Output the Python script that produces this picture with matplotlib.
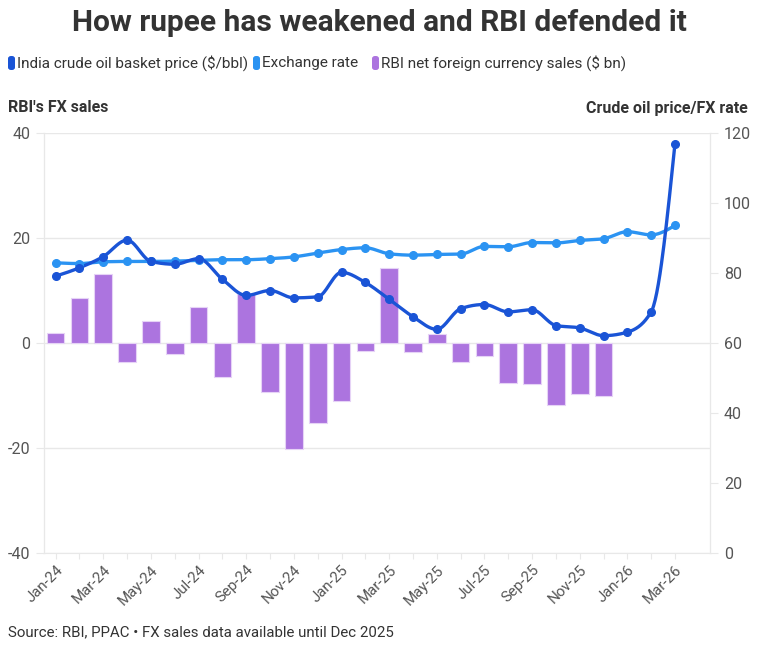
import numpy as np
import matplotlib
matplotlib.use("Agg")
import matplotlib.pyplot as plt
from matplotlib.patches import FancyBboxPatch

months = ["Jan-24","Feb-24","Mar-24","Apr-24","May-24","Jun-24","Jul-24","Aug-24","Sep-24","Oct-24","Nov-24","Dec-24",
          "Jan-25","Feb-25","Mar-25","Apr-25","May-25","Jun-25","Jul-25","Aug-25","Sep-25","Oct-25","Nov-25","Dec-25",
          "Jan-26","Feb-26","Mar-26"]
fx_sales = [2.0, 8.5, 13.1, -3.6, 4.2, -2.1, 6.9, -6.5, 9.4, -9.3, -20.2, -15.2,
            -11.1, -1.6, 14.3, -1.7, 1.7, -3.7, -2.5, -7.7, -7.9, -11.9, -9.7, -10.0]
crude = [79.1, 81.5, 84.7, 89.4, 83.3, 82.5, 84.1, 78.2, 73.6, 75.0, 72.9, 73.2,
         80.2, 77.3, 72.5, 67.5, 63.9, 69.8, 71.0, 68.9, 69.5, 65.0, 64.3, 62.1,
         63.1, 68.9, 117.0]
fxrate = [82.9, 82.7, 83.2, 83.3, 83.3, 83.4, 83.6, 83.8, 83.8, 84.1, 84.6, 85.7,
          86.7, 87.2, 85.5, 85.1, 85.3, 85.4, 87.6, 87.5, 88.7, 88.6, 89.3, 89.8,
          91.8, 90.9, 93.6]

C_CRUDE = "#1A54D6"
C_FX = "#2B93F2"
C_BAR = "#AC74DF"
TXT = "#333333"
TICK = "#555555"
GRID = "#E8E8E8"

FONT = "Roboto"
plt.rcParams['font.family'] = [FONT, 'DejaVu Sans']
plt.rcParams['axes.unicode_minus'] = False


def monotone(x, y, n=30):
    x = np.asarray(x, float); y = np.asarray(y, float)
    h = np.diff(x); d = np.diff(y) / h
    m = np.zeros_like(y)
    for i in range(1, len(y) - 1):
        if d[i-1] * d[i] <= 0:
            m[i] = 0
        else:
            p = (d[i-1] * h[i] + d[i] * h[i-1]) / (h[i-1] + h[i])
            m[i] = (np.sign(d[i-1]) + np.sign(d[i])) * min(abs(d[i-1]), abs(d[i]), 0.5 * abs(p))
    m[0] = (3 * d[0] - m[1]) / 2
    m[-1] = (3 * d[-1] - m[-2]) / 2
    xs, ys = [], []
    for i in range(len(x) - 1):
        t = np.linspace(0, 1, n, endpoint=False)
        h00 = 2*t**3 - 3*t**2 + 1; h10 = t**3 - 2*t**2 + t
        h01 = -2*t**3 + 3*t**2; h11 = t**3 - t**2
        xs.append(x[i] + t * h[i])
        ys.append(h00*y[i] + h10*h[i]*m[i] + h01*y[i+1] + h11*h[i]*m[i+1])
    xs.append([x[-1]]); ys.append([y[-1]])
    return np.concatenate(xs), np.concatenate(ys)


W, H = 759, 646
fig = plt.figure(figsize=(W/100, H/100), dpi=100)
L, R, T, B = 44, 710, 133, 553
ax = fig.add_axes([L/W, 1 - B/H, (R-L)/W, (B-T)/H])
ax2 = ax.twinx()

xi = np.arange(len(months))
xb = np.arange(len(fx_sales))
ax.bar(xb, fx_sales, width=0.74, color=C_BAR, edgecolor="#E6D3F6", linewidth=0.8, zorder=2)
ax.set_ylim(-40, 40)
ax.set_yticks([-40, -20, 0, 20, 40])
ax.set_xlim(-0.49, 27.47)
ax.grid(axis='y', color=GRID, linewidth=1, zorder=0)
ax.set_axisbelow(True)

for vals, col in [(fxrate, C_FX), (crude, C_CRUDE)]:
    sx, sy = monotone(xi, vals)
    ax2.plot(sx, sy, color=col, linewidth=2.4, zorder=3, solid_capstyle='round')
    ax2.plot(xi, vals, 'o', color=col, markersize=5.5, zorder=4)
ax2.set_ylim(0, 120)
ax2.set_yticks([0, 20, 40, 60, 80, 100, 120])

ax.set_xticks(xi)
ax.set_xticklabels([m if i % 2 == 0 else "" for i, m in enumerate(months)],
                   rotation=45, ha='right', rotation_mode='anchor', fontsize=10.8, color=TICK)
ax.tick_params(axis='x', length=4, color=GRID, pad=3)
ax.tick_params(axis='y', length=6, color=GRID, labelsize=11.5, labelcolor=TICK, pad=4)
ax2.tick_params(axis='y', length=6, color=GRID, labelsize=11.5, labelcolor=TICK, pad=4)
for a in (ax, ax2):
    a.spines['top'].set_visible(False)
    a.spines['left'].set_color(GRID)
    a.spines['right'].set_color(GRID)
    a.spines['bottom'].set_color(GRID)
ax2.spines['bottom'].set_visible(False)

fig.text(0.5, 1 - 23/H, "How rupee has weakened and RBI defended it", ha='center', va='center',
         fontsize=21.5, fontweight='bold', color=TXT)

leg = [(8, 17, "India crude oil basket price ($/bbl)", C_CRUDE),
       (253, 262, "Exchange rate", C_FX),
       (372, 381, "RBI net foreign currency sales ($ bn)", C_BAR)]
for mx, tx, lab, col in leg:
    p = FancyBboxPatch((mx/W, 1 - 70/H), 7/W, 14/H, boxstyle="round,pad=0,rounding_size=0.004",
                       transform=fig.transFigure, facecolor=col, edgecolor='none')
    fig.patches.append(p)
    fig.text(tx/W, 1 - 63/H, lab, ha='left', va='center', fontsize=11, color=TXT)

fig.text(8/W, 1 - 108/H, "RBI's FX sales", ha='left', va='center', fontsize=11.5, fontweight='bold', color=TXT)
fig.text(748/W, 1 - 108/H, "Crude oil price/FX rate", ha='right', va='center', fontsize=11.5, fontweight='bold', color=TXT)
fig.text(8/W, 1 - 632/H, "Source: RBI, PPAC \u2022 FX sales data available until Dec 2025", ha='left', va='center',
         fontsize=10.8, color=TXT)

fig.savefig("out.png", dpi=100, facecolor='white')
